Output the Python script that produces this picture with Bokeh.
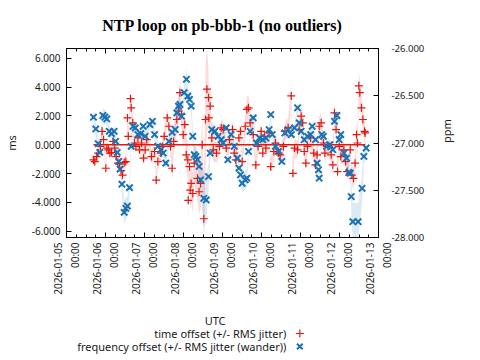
import math
from datetime import datetime, timedelta
from bokeh.plotting import figure
from bokeh.models import (Range1d, LinearAxis, DatetimeAxis, FixedTicker,
                          PrintfTickFormatter, DatetimeTickFormatter, ColumnDataSource)
from bokeh.layouts import column
from bokeh.embed import file_html
from bokeh.resources import INLINE
from bokeh.core.properties import value

TITLE = "NTP loop on pb-bbb-1 (no outliers)"
X_LABEL = "UTC"
Y_LABEL = "ms"
Y2_LABEL = "ppm"
LEGEND_LABELS = ["time offset (+/- RMS jitter)", "frequency offset (+/- RMS jitter (wander))"]

START = datetime(2026, 1, 5)
END = datetime(2026, 1, 13)
Y_TICKS = [-6, -4, -2, 0, 2, 4, 6]
Y2_TICKS = [-28.0, -27.5, -27.0, -26.5, -26.0]

# time offset samples: hours after 2026-01-05 00:00 UTC, offset (ms), RMS jitter (ms)
off_hours = [16.6, 17.4, 18.5, 19.5, 20.9, 21.9, 22.8, 24.2, 24.8, 25.8, 26.7, 27.7, 28.7, 29.7,
             30.6, 31.6, 32.6, 33.6, 34.5, 35.5, 36.5, 37.5, 38.0, 39.4, 39.8, 40.8, 41.8, 42.7,
             43.9, 44.9, 46.2, 47.4, 48.4, 49.4, 52.3, 54.2, 55.2, 56.2, 58.1, 59.1, 60.1, 62.0,
             63.0, 64.0, 65.0, 65.9, 67.9, 68.9, 69.8, 70.8, 71.8, 72.8, 73.7, 74.7, 74.9, 75.7,
             76.1, 76.7, 77.7, 78.6, 80.6, 81.6, 82.5, 83.5, 84.5, 85.5, 86.4, 87.4, 87.6, 88.4,
             89.4, 90.3, 92.3, 94.2, 95.2, 96.4, 98.3, 100.3, 102.2, 103.2, 104.2, 106.1, 107.1,
             108.1, 110.0, 111.0, 112.0, 113.0, 114.9, 116.5, 117.9, 119.8, 120.8, 121.8, 122.7,
             124.7, 125.7, 127.6, 128.6, 130.5, 131.5, 133.5, 134.4, 136.4, 138.3, 139.3, 140.3,
             142.2, 143.2, 144.4, 145.4, 146.3, 147.3, 148.3, 150.2, 152.2, 153.2, 154.2, 155.5,
             156.7, 158.1, 159.0, 161.0, 162.9, 163.9, 164.9, 165.9, 166.8, 167.8, 168.8, 170.7,
             171.7, 172.7, 174.6, 175.6, 176.6, 177.6, 178.5, 179.1, 179.9, 180.5, 181.5, 182.4,
             183.4, 183.8]
off_ms = [-1.05, -1.17, -0.82, -0.58, -0.12, 0.93, 0.35, -1.63, -0.23, -0.35, -0.58, -0.54, 0.23, -0.23,
          -0.82, -1.28, -1.33, -1.79, -2.10, -1.24, -1.17, 1.86, 0.58, 3.19, 2.56, 1.52, 0.12, -0.12,
          0.47, -0.35, 0.12, -0.93, -0.35, 0.35, -0.82, -0.47, -2.45, -1.17, -0.58, -0.12, 0.58, 1.86,
          1.28, -0.12, -1.63, 0.23, 1.75, 2.33, 3.61, 2.10, 0.70, 1.40, -0.70, -1.05, -3.85, -1.52,
          -3.15, -2.68, -3.38, -1.28, -2.33, -3.26, -2.68, 0.00, -5.13, 1.75, 3.85, 3.26, 1.86, 2.68,
          0.47, -0.35, -0.58, -0.12, 1.17, 1.05, -0.23, 0.35, 1.05, -0.58, -1.05, 0.47, 0.93,
          -1.17, 1.28, 2.45, 2.56, 1.52, 0.70, -1.40, -0.12, 0.93, -0.58, 0.58, -0.23,
          0.82, -1.52, -0.47, 0.12, -0.58, -0.70, -0.12, 0.93, 1.17, 3.38, -1.98, -0.23,
          -0.35, 1.05, 1.98, 1.52, -0.47, -1.28, -0.12, 0.47, -0.58, -1.40, -0.70, 1.28,
          1.52, 0.12, -0.58, -0.12, -0.70, -1.40, 2.21, 1.05, -1.86, -0.12, -0.82, -0.35,
          -1.17, -1.86, -0.35, -2.10, -2.33, -1.28, 0.70, 0.12, 4.08, 3.61, 2.56, 1.75,
          0.93, 0.82]
off_jitter = [0.35, 0.35, 0.35, 0.35, 0.4, 0.4, 0.4, 0.45, 0.4, 0.4, 0.4, 0.4, 0.4, 0.4,
              0.4, 0.4, 0.4, 0.4, 0.4, 0.45, 0.5, 0.6, 0.6, 0.7, 0.7, 0.6, 0.5, 0.5,
              0.5, 0.5, 0.5, 0.5, 0.5, 0.5, 0.5, 0.5, 0.6, 0.6, 0.5, 0.5, 0.5, 0.6,
              0.6, 0.7, 0.9, 1.0, 1.0, 1.0, 1.0, 1.0, 1.0, 1.1, 1.2, 1.3, 1.3, 1.3,
              1.3, 1.3, 1.4, 1.4, 1.5, 1.6, 1.8, 2.0, 2.5, 3.5, 3.0, 2.0, 1.8, 1.5,
              1.0, 0.8, 0.7, 0.6, 0.6, 0.6, 0.6, 0.6, 0.6, 0.6, 0.6, 0.6, 0.6,
              0.7, 0.8, 0.9, 0.9, 0.8, 0.7, 0.7, 0.6, 0.6, 0.6, 0.6, 0.6,
              0.6, 0.6, 0.6, 0.6, 0.6, 0.6, 0.6, 0.6, 0.7, 0.8, 0.8, 0.7,
              0.6, 0.6, 0.7, 0.7, 0.6, 0.6, 0.6, 0.6, 0.6, 0.6, 0.6, 0.7,
              0.7, 0.6, 0.6, 0.6, 0.6, 0.6, 0.7, 0.7, 0.7, 0.6, 0.6, 0.6,
              0.6, 0.6, 0.6, 0.7, 0.7, 0.8, 0.9, 1.0, 1.0, 1.0, 0.9, 0.8,
              0.7, 0.7]

# frequency offset samples: hours after 2026-01-05 00:00 UTC, frequency (ppm), wander (ppm)
frq_hours = [16.6, 18.0, 19.5, 20.5, 22.4, 23.6, 24.8, 26.3, 27.7, 29.3, 30.2, 31.2, 32.2, 33.0,
             34.1, 35.5, 36.5, 37.5, 38.8, 39.8, 41.0, 42.3, 43.9, 45.7, 47.2, 48.4, 51.3, 52.9,
             54.2, 56.2, 58.1, 59.5, 61.1, 63.0, 65.0, 66.9, 67.9, 68.9, 69.8, 70.8, 72.4, 73.8,
             74.7, 75.7, 76.7, 77.7, 78.6, 79.6, 80.6, 81.6, 82.5, 84.5, 86.0, 87.4, 88.4, 89.4,
             91.3, 93.3, 95.2, 96.4, 98.3, 99.3, 101.3, 103.2, 105.2, 106.1, 107.1, 108.1, 110.0,
             111.0, 112.0, 113.0, 114.9, 116.9, 118.8, 120.8, 122.7, 124.7, 125.7, 126.6, 128.6,
             130.5, 132.5, 134.4, 136.4, 138.3, 140.3, 142.2, 143.2, 144.4, 146.3, 148.3, 150.2,
             151.2, 153.2, 154.2, 155.1, 155.5, 157.1, 158.1, 160.0, 162.0, 163.9, 164.9, 166.4,
             167.8, 168.8, 170.7, 172.3, 173.7, 174.6, 175.2, 176.2, 179.5, 181.9, 183.0, 184.4]
frq_ppm = [-26.727, -26.851, -27.007, -27.099, -26.709, -26.727, -26.745, -26.876, -26.901, -26.876,
           -26.982, -27.099, -27.195, -27.277, -27.436, -27.734, -27.691, -27.667, -27.472, -27.035,
           -26.823, -26.840, -26.911, -26.901, -26.823, -26.929, -26.805, -26.770, -26.911, -27.035,
           -27.071, -27.106, -27.213, -26.982, -26.887, -26.858, -26.681, -26.610, -26.592, -26.716,
           -26.468, -26.326, -26.504, -26.539, -26.610, -26.929, -27.124, -27.142, -27.177, -27.248,
           -27.390, -27.585, -27.603, -27.355, -27.106, -26.858, -26.876, -26.929, -26.965, -27.000,
           -26.840, -27.177, -26.911, -27.035, -27.160, -27.266, -27.337, -27.426, -27.390, -27.372,
           -27.089, -26.876, -26.734, -27.000, -26.947, -26.965, -26.947, -26.858, -26.699, -26.911,
           -27.035, -27.089, -27.195, -26.894, -26.858, -26.911, -26.840, -26.628, -26.787, -26.876,
           -26.965, -26.929, -26.911, -26.823, -26.965, -27.213, -27.284, -27.372, -26.911, -26.929,
           -27.035, -27.018, -27.071, -26.770, -26.709, -26.965, -26.911, -27.106, -27.160, -27.312,
           -27.319, -27.567, -27.833, -27.833, -27.479, -27.142, -27.053]
frq_wander = [0.08, 0.08, 0.06, 0.06, 0.08, 0.08, 0.06, 0.05, 0.05, 0.05, 0.05, 0.06, 0.07, 0.08,
              0.10, 0.12, 0.12, 0.10, 0.10, 0.08, 0.06, 0.05, 0.05, 0.05, 0.05, 0.05, 0.05, 0.05,
              0.05, 0.05, 0.05, 0.05, 0.06, 0.06, 0.06, 0.07, 0.08, 0.08, 0.08, 0.08, 0.10, 0.12,
              0.10, 0.10, 0.10, 0.10, 0.10, 0.10, 0.10, 0.12, 0.15, 0.30, 0.25, 0.15, 0.10, 0.08,
              0.06, 0.05, 0.05, 0.05, 0.05, 0.05, 0.05, 0.05, 0.06, 0.07, 0.08, 0.10, 0.10,
              0.08, 0.07, 0.06, 0.06, 0.05, 0.05, 0.05, 0.05, 0.05, 0.05, 0.05, 0.05,
              0.05, 0.06, 0.05, 0.05, 0.05, 0.05, 0.06, 0.06, 0.05, 0.05, 0.05, 0.05,
              0.05, 0.05, 0.06, 0.07, 0.08, 0.06, 0.05, 0.05, 0.05, 0.05, 0.06, 0.06,
              0.05, 0.05, 0.06, 0.07, 0.08, 0.10, 0.15, 0.20, 0.20, 0.15, 0.10, 0.08]

RED = "#e8150c"
BLUE = "#1b72b5"
FONT = "Noto Sans"
TEXT_COLOR = "#1a1a1a"


def to_dt(hours):
    return [START + timedelta(hours=h) for h in hours]


def epoch_ms(d):
    return (d - datetime(1970, 1, 1)).total_seconds() * 1000.0


off_src = ColumnDataSource(dict(
    t=to_dt(off_hours), v=off_ms,
    lo=[v - j for v, j in zip(off_ms, off_jitter)],
    hi=[v + j for v, j in zip(off_ms, off_jitter)]))
frq_src = ColumnDataSource(dict(
    t=to_dt(frq_hours), v=frq_ppm,
    lo=[v - w for v, w in zip(frq_ppm, frq_wander)],
    hi=[v + w for v, w in zip(frq_ppm, frq_wander)]))

n_days = (END - START).days
major = [epoch_ms(START + timedelta(days=d)) for d in range(n_days + 1)]
minor = [epoch_ms(START + timedelta(hours=6 * k)) for k in range(n_days * 4 + 1)]
x_ticker = FixedTicker(ticks=major, minor_ticks=minor)

fmt_str = "%Y-%m-%d\n%H:%M"
x_fmt = DatetimeTickFormatter(microseconds=fmt_str, milliseconds=fmt_str, seconds=fmt_str,
                              minsec=fmt_str, minutes=fmt_str, hourmin=fmt_str, hours=fmt_str,
                              days=fmt_str, months=fmt_str, years=fmt_str)

p = figure(width=464, height=304, x_axis_type="datetime",
           x_range=Range1d(START, END), y_range=Range1d(-6.43, 6.67),
           output_backend="svg", toolbar_location=None, title=TITLE,
           min_border_left=57, min_border_right=79, min_border_top=47, min_border_bottom=67)
p.extra_y_ranges = {"ppm": Range1d(-28.0, -26.0)}
p.grid.visible = False
p.outline_line_color = "black"
p.outline_line_width = 1
p.background_fill_color = "white"
p.border_fill_color = "white"

p.title.align = "center"
p.title.text_font = "Liberation Serif"
p.title.text_font_size = "16px"
p.title.text_font_style = "bold"
p.title.text_color = "black"
p.title.standoff = 29


def style_axis(ax, label_size="10px"):
    ax.axis_line_color = "black"
    ax.major_tick_line_color = "black"
    ax.minor_tick_line_color = "black"
    ax.major_tick_in = 5
    ax.major_tick_out = 0
    ax.minor_tick_in = 0
    ax.minor_tick_out = 0
    ax.major_label_text_font = FONT
    ax.major_label_text_font_size = label_size
    ax.major_label_text_color = TEXT_COLOR
    ax.axis_label_text_font = FONT
    ax.axis_label_text_font_size = "11px"
    ax.axis_label_text_font_style = "normal"
    ax.axis_label_text_color = TEXT_COLOR


xa = p.xaxis[0]
style_axis(xa)
xa.ticker = x_ticker
xa.formatter = x_fmt
xa.minor_tick_in = 3
xa.major_label_orientation = math.pi / 2
xa.major_label_standoff = 5

top = DatetimeAxis(ticker=x_ticker, formatter=x_fmt)
style_axis(top)
top.minor_tick_in = 3
top.major_label_text_color = None
top.major_label_text_font_size = "0px"
top.major_label_standoff = 0
p.add_layout(top, "above")

ya = p.yaxis[0]
style_axis(ya)
ya.ticker = FixedTicker(ticks=Y_TICKS)
ya.formatter = PrintfTickFormatter(format="%.3f")
ya.major_label_standoff = 6
ya.axis_label = Y_LABEL
ya.axis_label_standoff = 10

ra = LinearAxis(y_range_name="ppm", ticker=FixedTicker(ticks=Y2_TICKS),
                formatter=PrintfTickFormatter(format="%.3f"))
style_axis(ra, label_size="9.5px")
ra.major_label_standoff = 13
ra.axis_label = Y2_LABEL
ra.axis_label_standoff = 19
if "axis_label_orientation" in ra.properties():
    ra.axis_label_orientation = math.pi / 2
p.add_layout(ra, "right")

# jitter / wander bands
p.varea(x="t", y1="lo", y2="hi", source=off_src, fill_color=RED, fill_alpha=0.15)
p.varea(x="t", y1="lo", y2="hi", source=frq_src, fill_color=BLUE, fill_alpha=0.15,
        y_range_name="ppm")

# zero offset reference line across the sampled period
t_span = to_dt([min(off_hours), max(off_hours)])
p.line(x=t_span, y=[0, 0], line_color=RED, line_width=1.3)

p.scatter(x="t", y="v", source=off_src, marker="cross", size=8,
          line_color=RED, line_width=1.2)
p.scatter(x="t", y="v", source=frq_src, marker="x", size=9,
          line_color=BLUE, line_width=2, y_range_name="ppm")

# x-axis title and key strip below (key text on the left, sample on the right, as in the original)
lg = figure(width=464, height=52, x_range=Range1d(0, 464), y_range=Range1d(0, 52),
            output_backend="svg", toolbar_location=None, title=None,
            x_axis_location=None, y_axis_location=None, min_border=0)
lg.grid.visible = False
lg.outline_line_color = None
lg.text(x=[221], y=[36], text=[X_LABEL], text_align="center", text_baseline="middle",
        text_font=value(FONT), text_font_size="11px", text_color=TEXT_COLOR)
lg.text(x=[327, 327], y=[23, 10], text=LEGEND_LABELS, text_align="right",
        text_baseline="middle", text_font=value(FONT), text_font_size="11px",
        text_color=TEXT_COLOR)
lg.scatter(x=[347], y=[23], marker="cross", size=8, line_color=RED, line_width=1.2)
lg.scatter(x=[347], y=[10], marker="x", size=8, line_color=BLUE, line_width=2)

layout = column(p, lg, spacing=0)
open("out.html", "w").write(file_html(layout, INLINE))
